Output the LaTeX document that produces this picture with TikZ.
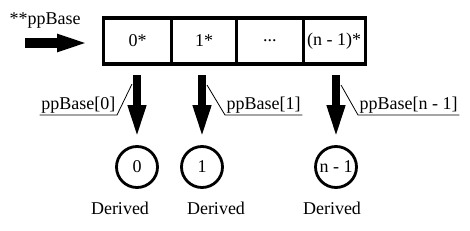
\documentclass[tikz,border=0pt]{standalone}
\usepackage{fontspec}
\setmainfont{Liberation Serif}
\usepackage{tikz}
\usetikzlibrary{positioning, arrows.meta, calc}
\tikzset{
  cell/.style={draw, line width=3.2pt, outer sep=0pt, minimum height=46pt,
               minimum width=#1, inner sep=0pt, font=\fontsize{18}{20}\selectfont},
  obj/.style={circle, draw, line width=2.8pt, minimum size=41pt, inner sep=0pt,
              font=\fontsize{18}{20}\selectfont},
  inarr/.style={-{Triangle[length=35pt, width=15pt]}, line width=10pt},
  downarr/.style={-{Triangle[length=35pt, width=16pt]}, line width=8.5pt},
  lead/.style={line width=0.8pt},
  lbl/.style={inner sep=1.5pt, font=\fontsize{18}{20}\selectfont},
}
\begin{document}
\begin{tikzpicture}[x=1pt, y=-1pt]
  \useasboundingbox (0,0) rectangle (470,230);
  % pointer array
  \node[cell=68pt] (c0) at (137.6,41) {0*};
  \node[cell=65pt, right=0pt of c0] (c1) {1*};
  \node[cell=66.6pt, right=0pt of c1] (c2) {{.}{.}{.}};
  \node[cell=62pt, right=0pt of c2] (c3) {(n - 1)*};
  % base pointer
  \node[lbl, anchor=west] (pp) at (8,21) {**ppBase};
  \coordinate (src) at (25,43);
  \draw[inarr] (src) -- ([xshift=-11.5pt]src -| c0.west);
  % derived objects
  \node[obj] (d0) at (137,167) {0};
  \node[obj] (d1) at (202,167) {1};
  \node[obj] (d2) at (336,167) {n - 1};
  \node[lbl] (n0) at (120,208) {Derived};
  \node[lbl] (n1) at (216,208) {Derived};
  \node[lbl] (n2) at (332,208) {Derived};
  % element pointers
  \draw[downarr] ([yshift=-11pt]d0.north |- c0.south) -- ([yshift=5pt]d0.north);
  \draw[downarr] ([yshift=-11pt]d1.north |- c1.south) -- ([yshift=5pt]d1.north);
  \draw[downarr] ([yshift=-11pt]d2.north |- c2.south) -- ([yshift=5pt]d2.north);
  % element labels
  \node[lbl, anchor=south east] (l0) at (117,115) {ppBase[0]};
  \node[lbl, anchor=south west] (l1) at (225,115) {ppBase[1]};
  \node[lbl, anchor=south west] (l2) at (358,115) {ppBase[n - 1]};
  \coordinate (a0) at (132,84);
  \coordinate (a1) at (207,85);
  \coordinate (a2) at (341,85);
  \draw[lead] (a0) -- (l0.south east) -- (l0.south west);
  \draw[lead] (a1) -- (l1.south west) -- (l1.south east);
  \draw[lead] (a2) -- (l2.south west) -- (l2.south east);
\end{tikzpicture}
\end{document}
